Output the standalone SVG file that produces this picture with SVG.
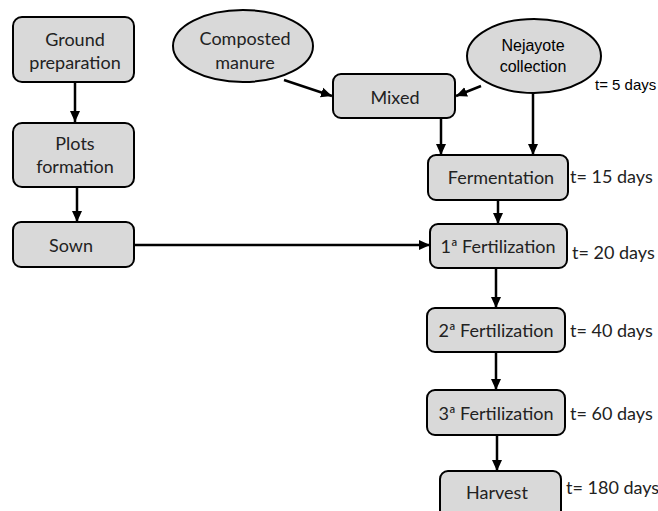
<svg xmlns="http://www.w3.org/2000/svg" width="658" height="511" viewBox="0 0 658 511">
<style>
.box{fill:#d9d9d9;stroke:#000;stroke-width:2}
.lbl{font-family:Lato,"Liberation Sans",sans-serif;font-size:18px;fill:#222;text-anchor:middle;dominant-baseline:central}
.arial{font-family:"Liberation Sans",Arial,sans-serif;font-size:16px;fill:#000;text-anchor:middle;dominant-baseline:central}
.t{font-family:Lato,"Liberation Sans",sans-serif;font-size:18px;fill:#222;dominant-baseline:central}
.ta{font-family:"Liberation Sans",Arial,sans-serif;font-size:15px;fill:#000;dominant-baseline:central}
.c{stroke:#000;stroke-width:2.5;fill:none;marker-end:url(#ah)}
</style>
<defs>
<marker id="ah" markerUnits="userSpaceOnUse" markerWidth="12" markerHeight="12" refX="11" refY="6" orient="auto">
<path d="M0,1 L11,6 L0,11 Z" fill="#000"/>
</marker>
</defs>
<rect width="658" height="511" fill="#fff"/>
<g id="connectors">
<line class="c" x1="75" y1="82" x2="75" y2="122"/>
<line class="c" x1="77" y1="187" x2="77" y2="222"/>
<line class="c" x1="134" y1="245" x2="430" y2="245"/>
<line class="c" x1="284" y1="80" x2="332" y2="96"/>
<line class="c" x1="481" y1="86" x2="456" y2="96"/>
<line class="c" x1="441" y1="118" x2="441" y2="155"/>
<line class="c" x1="533" y1="93" x2="533" y2="155"/>
<line class="c" x1="498" y1="200" x2="498" y2="224"/>
<line class="c" x1="496" y1="268" x2="496" y2="308"/>
<line class="c" x1="496" y1="352" x2="496" y2="390"/>
<line class="c" x1="497" y1="435" x2="497" y2="471"/>
</g>
<g id="ground">
<rect class="box" x="13" y="17" width="121" height="65" rx="9"/>
<text class="lbl" x="75" y="39">Ground</text>
<text class="lbl" x="75" y="62">preparation</text>
</g>
<g id="plots">
<rect class="box" x="13" y="123" width="121" height="64" rx="9"/>
<text class="lbl" x="75" y="143">Plots</text>
<text class="lbl" x="75" y="166">formation</text>
</g>
<g id="sown">
<rect class="box" x="13" y="222" width="121" height="45" rx="8"/>
<text class="lbl" x="71" y="245">Sown</text>
</g>
<g id="composted">
<ellipse class="box" cx="243" cy="46" rx="70" ry="36"/>
<text class="lbl" x="245" y="38">Composted</text>
<text class="lbl" x="245" y="62">manure</text>
</g>
<g id="nejayote">
<ellipse class="box" cx="534" cy="56" rx="67" ry="37"/>
<text class="arial" x="533" y="45">Nejayote</text>
<text class="arial" x="533" y="66">collection</text>
</g>
<g id="mixed">
<rect class="box" x="333" y="74" width="122" height="44" rx="8"/>
<text class="lbl" x="395" y="97">Mixed</text>
</g>
<text class="ta" x="595" y="84">t= 5 days</text>
<g id="fermentation">
<rect class="box" x="428" y="155" width="140" height="45" rx="8"/>
<text class="lbl" x="501" y="177">Fermentation</text>
</g>
<text class="t" x="570" y="176">t= 15 days</text>
<g id="fert1">
<rect class="box" x="430" y="224" width="137" height="44" rx="8"/>
<text class="lbl" x="498" y="246">1ª Fertilization</text>
</g>
<text class="t" x="572" y="252">t= 20 days</text>
<g id="fert2">
<rect class="box" x="427" y="308" width="138" height="44" rx="8"/>
<text class="lbl" x="496" y="330">2ª Fertilization</text>
</g>
<text class="t" x="570" y="330">t= 40 days</text>
<g id="fert3">
<rect class="box" x="427" y="390" width="138" height="45" rx="8"/>
<text class="lbl" x="496" y="413">3ª Fertilization</text>
</g>
<text class="t" x="570" y="413">t= 60 days</text>
<g id="harvest">
<rect class="box" x="440" y="471" width="121" height="55" rx="8"/>
<text class="lbl" x="497" y="492">Harvest</text>
</g>
<text class="t" x="566" y="487">t= 180 days</text>
</svg>
